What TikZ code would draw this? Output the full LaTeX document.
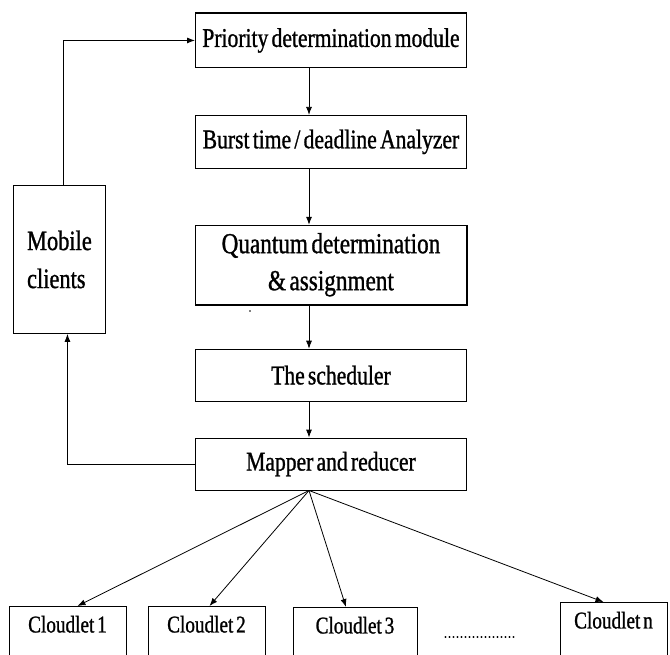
\documentclass[tikz,border=0pt]{standalone}
\usepackage{fontspec}
\setmainfont{Liberation Serif}[FakeStretch=0.8, FakeBold=1, WordSpace=0.6]
\usetikzlibrary{arrows.meta,positioning,calc}
\tikzset{
  block/.style={draw, line width=0.9pt, align=center, font=\fontsize{27}{32}\selectfont,
    minimum width=271pt, minimum height=54pt, inner sep=2pt},
  tallblock/.style={block, font=\fontsize{29}{37}\selectfont, minimum height=79pt},
  sideblock/.style={draw, line width=0.9pt, align=left, font=\fontsize{28}{38}\selectfont,
    minimum width=92pt, minimum height=148pt},
  cloudblock/.style={draw, line width=0.9pt, anchor=north, font=\fontsize{24}{27}\selectfont,
    text height=21pt, text depth=35pt, inner ysep=5pt, inner xsep=0pt},
  arrow/.style={-{Latex[length=8pt,width=6pt]}, line width=0.8pt}
}
\begin{document}
\begin{tikzpicture}[x=1pt, y=-1pt, node distance=47pt]
  \fill[white] (0,0) rectangle (670,655);
  \useasboundingbox (0,0) rectangle (670,655);
  \coordinate (spine) at (309,0);
  \node[block, anchor=north west] (priority) at (195,13) {Priority determination module};
  \node[block, below=47pt of priority, minimum height=53pt] (burst) {Burst time / deadline Analyzer};
  \node[tallblock, below=56pt of burst] (quantum) {Quantum determination\\\& assignment};
  \node[block, below=44pt of quantum, minimum height=52pt] (sched) {The scheduler};
  \node[block, below=36pt of sched, minimum height=52pt] (mapper) {Mapper and reducer};
  \node[sideblock, anchor=north west] (mobile) at (13,185) {Mobile\\clients};
  \node[cloudblock, minimum width=117pt] (cl1) at (67.5,606) {Cloudlet 1};
  \node[cloudblock, minimum width=117pt] (cl2) at (206.5,606) {Cloudlet 2};
  \node[cloudblock, minimum width=124pt] (cl3) at (355,607) {Cloudlet 3};
  \node[font=\fontsize{15}{16}\selectfont] (dots) at (479.5,637) {………………};
  \node[cloudblock, minimum width=107pt] (cln) at (613.5,602) {Cloudlet n};
  % heavier borders
  \draw[line width=2pt] (priority.north west) -- (priority.north east);
  \draw[line width=1.8pt] (quantum.south west) -- (quantum.south east) -- (quantum.north east);
  \fill (250,311) circle (0.9pt);
  \draw[arrow] (priority.south -| spine) -- (burst.north -| spine);
  \draw[arrow] (burst.south -| spine) -- (quantum.north -| spine);
  \draw[arrow] (quantum.south -| spine) -- (sched.north -| spine);
  \draw[arrow] (sched.south -| spine) -- (mapper.north -| spine);
  \draw[arrow] ([xshift=4pt]mobile.north) |- (priority.west);
  \draw[arrow] (mapper.west) -| ([xshift=8pt]mobile.south);
  \draw[arrow] (mapper.south -| spine) -- ([xshift=10pt]cl1.north);
  \draw[arrow] (mapper.south -| spine) -- ([xshift=3pt]cl2.north);
  \draw[arrow] (mapper.south -| spine) -- ([xshift=-9pt]cl3.north);
  \draw[arrow] (mapper.south -| spine) -- ([xshift=-10pt]cln.north);
\end{tikzpicture}
\end{document}
